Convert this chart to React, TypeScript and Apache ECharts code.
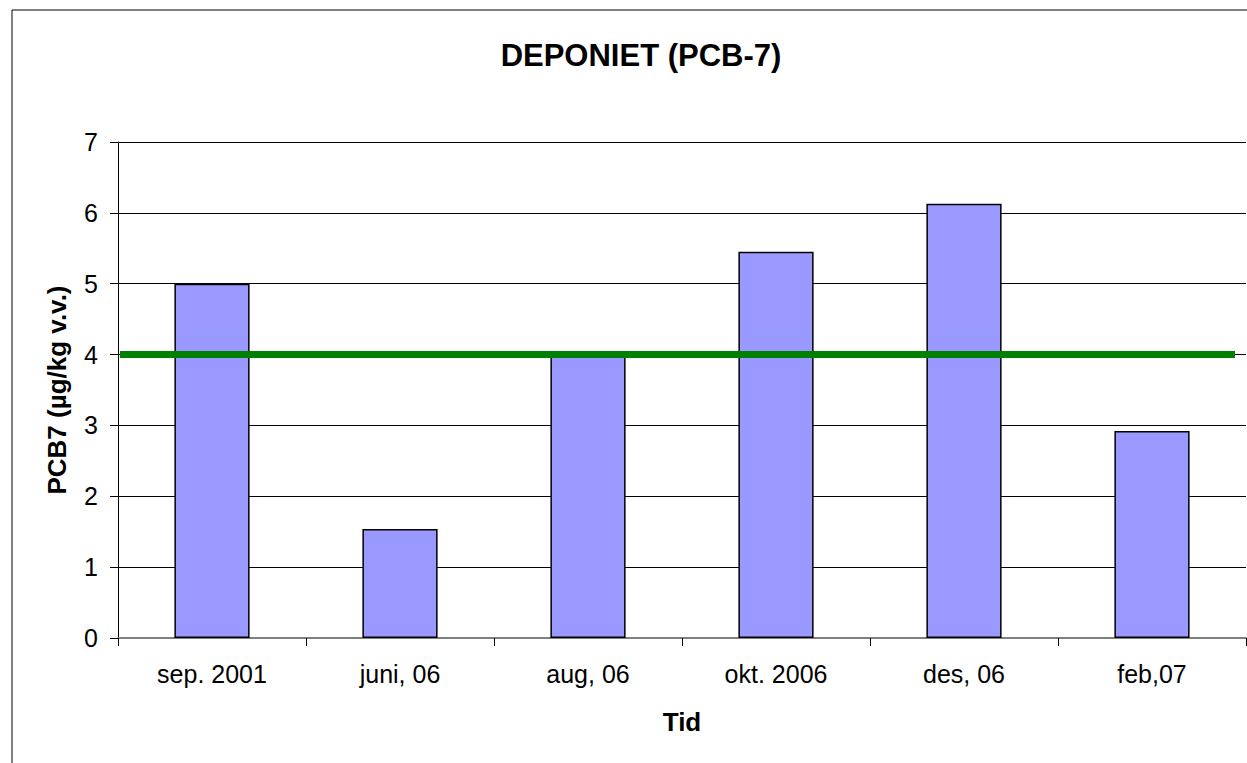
import React, { useEffect, useRef } from "react";
import * as echarts from "echarts";

const categories = ["sep. 2001", "juni, 06", "aug, 06", "okt. 2006", "des, 06", "feb,07"];
const values = [5.0, 1.54, 3.98, 5.45, 6.13, 2.92];
const limitValue = 4;
const yTicks = [0, 1, 2, 3, 4, 5, 6, 7];

export default function App() {
  const ref = useRef<HTMLDivElement>(null);
  useEffect(() => {
    if (!ref.current) return;
    const chart = echarts.init(ref.current, undefined, { renderer: "svg" });
    const font = "'Liberation Sans', Arial, sans-serif";
    chart.setOption({
      animation: false,
      backgroundColor: "#ffffff",
      graphic: [
        {
          type: "rect",
          shape: { x: 12, y: 10, width: 1400, height: 900 },
          style: { fill: "none", stroke: "#000", lineWidth: 1 },
          silent: true,
        },
        {
          type: "text",
          x: 641,
          y: 55,
          style: {
            text: "DEPONIET (PCB-7)",
            font: `bold 31px ${font}`,
            fill: "#000",
            textAlign: "center",
            textVerticalAlign: "middle",
          },
        },
      ],
      grid: { left: 118, top: 142, right: 1, bottom: 125, containLabel: false },
      xAxis: {
        type: "category",
        data: categories,
        name: "Tid",
        nameLocation: "middle",
        nameGap: 71,
        nameTextStyle: { fontFamily: font, fontWeight: "bold", fontSize: 26, color: "#000" },
        axisLine: { lineStyle: { color: "#808080", width: 2 } },
        axisTick: { show: true, length: 8, lineStyle: { color: "#000" } },
        axisLabel: { fontFamily: font, fontSize: 25, color: "#000", margin: 23 },
        splitLine: { show: false },
      },
      yAxis: {
        type: "value",
        min: 0,
        max: 7,
        interval: 1,
        name: "PCB7 (µg/kg v.v.)",
        nameLocation: "middle",
        nameGap: 48,
        nameTextStyle: { fontFamily: font, fontWeight: "bold", fontSize: 26, color: "#000" },
        axisLine: { show: true, lineStyle: { color: "#000", width: 1 } },
        axisTick: { show: true, inside: false, length: 8, lineStyle: { color: "#000" } },
        axisLabel: {
          fontFamily: font,
          fontSize: 25,
          color: "#000",
          margin: 20,
          formatter: (v: number) => (yTicks.includes(v) ? String(v) : ""),
        },
        splitLine: { show: true, lineStyle: { color: "#000", width: 1 } },
      },
      series: [
        {
          type: "bar",
          data: values,
          barWidth: "40%",
          itemStyle: { color: "#9999FF", borderColor: "#000", borderWidth: 1.5 },
          markLine: {
            symbol: "none",
            silent: true,
            label: { show: false },
            lineStyle: { color: "#008000", width: 7, type: "solid" },
            data: [[{ x: 120, yAxis: limitValue }, { x: 1235, yAxis: limitValue }]],
          },
        },
      ],
    });
    return () => chart.dispose();
  }, []);
  return (
    <div
      ref={ref}
      style={{ position: "fixed", left: 0, top: 0, width: 1247, height: 763 }}
    />
  );
}
